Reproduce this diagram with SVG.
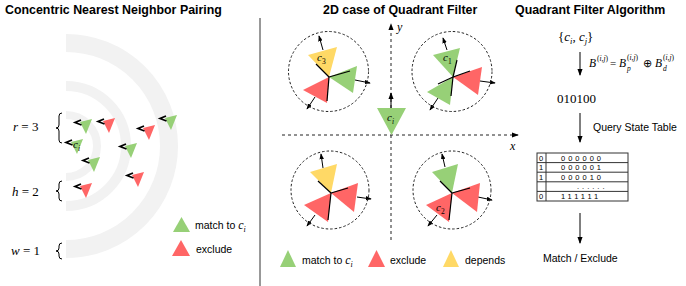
<svg xmlns="http://www.w3.org/2000/svg" width="686" height="286" viewBox="0 0 686 286">
<defs>
<style>
.title{font-family:"Liberation Sans",Arial,sans-serif;font-weight:bold;font-size:12.4px;fill:#000}
.lbl{font-family:"Liberation Sans",Arial,sans-serif;font-size:10.5px;fill:#000}
.m{font-family:"Liberation Serif","Times New Roman",serif;fill:#000}
.mi{font-style:italic}
.band{fill:none;stroke:#f2f2f2}
.g{fill:#97d077}
.r{fill:#ff6666}
.y{fill:#ffd966}
.chev{fill:none;stroke:#000;stroke-width:1.7;stroke-linejoin:miter}
.dc{fill:none;stroke:#222;stroke-width:1;stroke-dasharray:2.5 2}
.ax{fill:none;stroke:#222;stroke-width:1;stroke-dasharray:3 3}
.ar{fill:none;stroke:#000;stroke-width:1}
.bl{stroke:#000;stroke-width:1.2}
.tb{fill:none;stroke:#333;stroke-width:1}
.td{font-family:"Liberation Sans",Arial,sans-serif;font-size:7.5px;fill:#000;letter-spacing:3px}
</style>
<marker id="ah" viewBox="0 0 8 6" refX="7" refY="3" markerWidth="7" markerHeight="5.5" markerUnits="userSpaceOnUse" orient="auto">
<path d="M0,0 L8,3 L0,6 z" fill="#000"/>
</marker>
<marker id="ahs" viewBox="0 0 8 6" refX="7" refY="3" markerWidth="6" markerHeight="4.5" markerUnits="userSpaceOnUse" orient="auto">
<path d="M0,0 L8,3 L0,6 z" fill="#000"/>
</marker>
</defs>
<rect width="686" height="286" fill="#fff"/>

<!-- Left panel -->
<g id="left-title"><text class="title" x="5" y="14">Concentric Nearest Neighbor Pairing</text></g>
<g id="bands">
<path class="band" stroke-width="8" d="M66,115 A31,31 0 0 1 66,177"/>
<path class="band" stroke-width="10" d="M66,86 A60,60 0 0 1 66,206"/>
<path class="band" stroke-width="18" d="M66,43 A103,103 0 0 1 66,249"/>
</g>
<g id="braces" fill="none" stroke="#000" stroke-width="1">
<path d="M62,113 Q59,113 59,116 L59,125 Q59,128 56,128 Q59,128 59,131 L59,140 Q59,143 62,143"/>
<path d="M62,181 Q59,181 59,184 L59,188 Q59,191 56,191 Q59,191 59,194 L59,198 Q59,201 62,201"/>
<path d="M62,243 Q59,243 59,246 L59,248 Q59,251 56,251 Q59,251 59,254 L59,256 Q59,259 62,259"/>
</g>
<g id="brace-labels">
<text class="m" style="font-size:13px" x="13" y="131"><tspan class="mi">r</tspan> = 3</text>
<text class="m" style="font-size:13px" x="12" y="196"><tspan class="mi">h</tspan> = 2</text>
<text class="m" style="font-size:13px" x="11" y="255"><tspan class="mi">w</tspan> = 1</text>
</g>
<g id="left-points">
<g transform="translate(80,122)"><polygon class="g" points="0,0 12,-3 6,12"/><path class="chev" d="M1,-2 L-5,0.5 L1.5,3"/></g>
<g transform="translate(103,121)"><polygon class="r" points="0,0 12,-3 6,12"/><path class="chev" d="M1,-2 L-5,0.5 L1.5,3"/></g>
<g transform="translate(143,128)"><polygon class="r" points="0,0 12,-3 6,12"/><path class="chev" d="M1,-2 L-5,0.5 L1.5,3"/></g>
<g transform="translate(165,118)"><polygon class="g" points="0,0 12,-3 6,12"/><path class="chev" d="M1,-2 L-5,0.5 L1.5,3"/></g>
<g transform="translate(71,142)"><polygon class="g" points="0,0 12,-3 6,12"/><path class="chev" d="M1,-2 L-5,0.5 L1.5,3"/></g>
<g transform="translate(125,146)"><polygon class="g" points="0,0 12,-3 6,12"/><path class="chev" d="M1,-2 L-5,0.5 L1.5,3"/></g>
<g transform="translate(88,160)"><polygon class="g" points="0,0 12,-3 6,12"/><path class="chev" d="M1,-2 L-5,0.5 L1.5,3"/></g>
<g transform="translate(132,175)"><polygon class="r" points="0,0 12,-3 6,12"/><path class="chev" d="M1,-2 L-5,0.5 L1.5,3"/></g>
<g transform="translate(80,186)"><polygon class="r" points="0,0 12,-3 6,12"/><path class="chev" d="M1,-2 L-5,0.5 L1.5,3"/></g>
<text class="m" style="font-size:11px" x="73" y="148"><tspan class="mi">c</tspan><tspan class="mi" style="font-size:7.5px" dy="2.5">i</tspan></text>
</g>
<g id="left-legend">
<polygon class="g" points="173,232 190,232 181.5,217"/>
<text class="lbl" x="195" y="229">match to <tspan class="m mi" style="font-size:12px">c</tspan><tspan class="m mi" style="font-size:8px" dy="2.5">i</tspan></text>
<polygon class="r" points="172,256 190,256 181,240"/>
<text class="lbl" x="196" y="253">exclude</text>
</g>

<g id="separator"><line x1="260" y1="18" x2="260" y2="286" stroke="#333" stroke-width="1"/></g>

<!-- Middle panel -->
<g id="mid-title"><text class="title" x="323" y="14">2D case of Quadrant Filter</text></g>
<g id="connectors">
<path class="ax" d="M391,240 L391,24" marker-end="url(#ah)"/>
<path class="ax" d="M282,135 L518,135" marker-end="url(#ah)"/>
<path class="ar" d="M391,108 L391,93" marker-end="url(#ah)"/>
<path class="ar" d="M323,50 L319,36" marker-end="url(#ahs)"/>
<path class="ar" d="M355,80 L370,83" marker-end="url(#ahs)"/>
<path class="ar" d="M315,97 L307,109" marker-end="url(#ahs)"/>
<path class="ar" d="M447,50 L443,38" marker-end="url(#ahs)"/>
<path class="ar" d="M438,98 L430,110" marker-end="url(#ahs)"/>
<path class="ar" d="M480,81 L495,83" marker-end="url(#ahs)"/>
<path class="ar" d="M323,168 L321,154" marker-end="url(#ahs)"/>
<path class="ar" d="M357,197 L371,199" marker-end="url(#ahs)"/>
<path class="ar" d="M315,215 L307,226" marker-end="url(#ahs)"/>
<path class="ar" d="M445,167 L442,154" marker-end="url(#ahs)"/>
<path class="ar" d="M478,197 L492,200" marker-end="url(#ahs)"/>
<path class="ar" d="M437,215 L428,226" marker-end="url(#ahs)"/>
<path class="ar" d="M580,52 L580,75" marker-end="url(#ah)"/>
<path class="ar" d="M580,113 L580,142" marker-end="url(#ah)"/>
<path class="ar" d="M580,213 L580,243" marker-end="url(#ah)"/>
</g>
<g id="axis-labels">
<text class="m mi" style="font-size:12px" x="397" y="31">y</text>
<text class="m mi" style="font-size:12px" x="510" y="150">x</text>
</g>
<g id="ci-node">
<polygon class="g" points="377,108 406,108 391.5,135"/>
<text class="m" style="font-size:11px" x="387" y="121"><tspan class="mi">c</tspan><tspan class="mi" style="font-size:7.5px" dy="2.5">i</tspan></text>
</g>
<g id="quad-tl">
<circle class="dc" cx="328.5" cy="71.5" r="40"/>
<polygon class="y" points="308,55 337,47 329,77"/>
<polygon class="g" points="329,77 357,66 353,93"/>
<polygon class="r" points="329,77 303,90 327,103"/>
<line class="bl" x1="329" y1="77" x2="316" y2="64"/>
<line class="bl" x1="329" y1="77" x2="327" y2="101"/>
<line class="bl" x1="329" y1="77" x2="350" y2="71"/>
<text class="m" style="font-size:11px" x="317" y="61"><tspan class="mi">c</tspan><tspan style="font-size:7.5px" dy="2.5">3</tspan></text>
</g>
<g id="quad-tr">
<circle class="dc" cx="452" cy="71.5" r="40"/>
<polygon class="g" points="433,55 460,48 453,77"/>
<polygon class="g" points="453,77 427,92 450,105"/>
<polygon class="r" points="453,77 482,67 478,95"/>
<line class="bl" x1="453" y1="77" x2="457" y2="60"/>
<line class="bl" x1="453" y1="77" x2="451" y2="96"/>
<line class="bl" x1="453" y1="77" x2="470" y2="71"/>
<line class="bl" x1="453" y1="77" x2="438" y2="84"/>
<text class="m" style="font-size:11px" x="443" y="61"><tspan class="mi">c</tspan><tspan style="font-size:7.5px" dy="2.5">1</tspan></text>
</g>
<g id="quad-bl">
<circle class="dc" cx="330" cy="190" r="39"/>
<polygon class="y" points="310,172 337,164 331,193"/>
<polygon class="r" points="331,193 358,183 354,212"/>
<polygon class="r" points="331,193 304,205 328,222"/>
<line class="bl" x1="331" y1="193" x2="318" y2="181"/>
<line class="bl" x1="331" y1="193" x2="328" y2="220"/>
<line class="bl" x1="331" y1="193" x2="348" y2="188"/>
</g>
<g id="quad-br">
<circle class="dc" cx="452" cy="190" r="39"/>
<polygon class="g" points="432,172 458,164 452,193"/>
<polygon class="r" points="452,193 480,183 477,212"/>
<polygon class="r" points="452,193 426,205 449,222"/>
<line class="bl" x1="452" y1="193" x2="440" y2="181"/>
<line class="bl" x1="452" y1="193" x2="449" y2="220"/>
<line class="bl" x1="452" y1="193" x2="470" y2="188"/>
<text class="m" style="font-size:11px" x="436" y="211"><tspan class="mi">c</tspan><tspan style="font-size:7.5px" dy="2.5">2</tspan></text>
</g>
<g id="mid-legend">
<polygon class="g" points="280,267 296,267 288,250"/>
<text class="lbl" x="302" y="264">match to <tspan class="m mi" style="font-size:12px">c</tspan><tspan class="m mi" style="font-size:8px" dy="2.5">i</tspan></text>
<polygon class="r" points="368,267 385,267 376.5,250"/>
<text class="lbl" x="390" y="264">exclude</text>
<polygon class="y" points="443,267 459,267 451,250"/>
<text class="lbl" x="465" y="264">depends</text>
</g>

<!-- Right panel -->
<g id="right-title"><text class="title" x="515" y="14">Quadrant Filter Algorithm</text></g>
<g id="pair-node">
<text class="m" style="font-size:13px" x="558" y="41">{<tspan class="mi">c</tspan><tspan class="mi" style="font-size:8.5px" dy="2.5">i</tspan><tspan dy="-2.5">, </tspan><tspan class="mi">c</tspan><tspan class="mi" style="font-size:8.5px" dy="2.5">j</tspan><tspan dy="-2.5">}</tspan></text>
</g>
<g id="formula">
<text class="m mi" style="font-size:11.5px" x="589" y="67">B</text>
<text class="m" style="font-size:7.5px" x="597" y="61">(<tspan class="mi">i,j</tspan>)</text>
<text class="m" style="font-size:11px" x="610" y="67">=</text>
<text class="m mi" style="font-size:11.5px" x="619" y="67">B</text>
<text class="m" style="font-size:7.5px" x="627" y="60">(<tspan class="mi">i,j</tspan>)</text>
<text class="m mi" style="font-size:7.5px" x="627" y="70.5">p</text>
<text class="m" style="font-size:11px" x="643" y="67">⊕</text>
<text class="m mi" style="font-size:11.5px" x="655" y="67">B</text>
<text class="m" style="font-size:7.5px" x="663" y="60">(<tspan class="mi">i,j</tspan>)</text>
<text class="m mi" style="font-size:7.5px" x="663" y="70.5">d</text>
</g>
<g id="bits-node"><text class="m" style="font-size:13px" x="557" y="103">010100</text></g>
<g id="query-label"><text class="lbl" x="593" y="131">Query State Table</text></g>
<g id="state-table">
<rect class="tb" x="537" y="153" width="91" height="48"/>
<line class="tb" x1="546" y1="153" x2="546" y2="201"/>
<line class="tb" x1="537" y1="162.6" x2="628" y2="162.6"/>
<line class="tb" x1="537" y1="172.2" x2="628" y2="172.2"/>
<line class="tb" x1="537" y1="181.8" x2="628" y2="181.8"/>
<line class="tb" x1="537" y1="191.4" x2="628" y2="191.4"/>
<text class="td" x="539" y="160.5">0</text>
<text class="td" x="539" y="170.1">1</text>
<text class="td" x="539" y="179.7">1</text>
<text class="td" x="539" y="198.9">0</text>
<text class="td" x="561" y="160.5">000000</text>
<text class="td" x="561" y="170.1">000001</text>
<text class="td" x="561" y="179.7">000010</text>
<text class="td" x="577" y="188.5">......</text>
<text class="td" x="561" y="198.9">111111</text>
</g>
<g id="result-node"><text class="lbl" x="543" y="262">Match / Exclude</text></g>
</svg>
